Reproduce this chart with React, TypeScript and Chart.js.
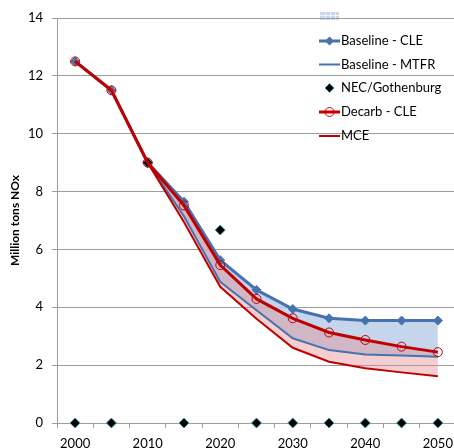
import React, { useEffect, useRef } from 'react';
import { Chart, registerables } from 'chart.js';

Chart.register(...registerables);

// ---- data ----
const years = ['2000', '2005', '2010', '2015', '2020', '2025', '2030', '2035', '2040', '2045', '2050'];
const xTickLabels = ['2000', '', '2010', '', '2020', '', '2030', '', '2040', '', '2050'];
const yTickValues = [0, 2, 4, 6, 8, 10, 12, 14];

const baselineCLE = [12.5, 11.5, 9.0, 7.65, 5.63, 4.6, 3.94, 3.62, 3.54, 3.54, 3.54];
const baselineMTFR = [12.5, 11.5, 9.0, 7.15, 4.88, 3.9, 2.93, 2.52, 2.37, 2.33, 2.29];
const necGothenburg = [0, 0, 9.0, 0, 6.67, 0, 0, 0, 0, 0, 0];
const decarbCLE = [12.5, 11.5, 9.0, 7.52, 5.46, 4.29, 3.62, 3.13, 2.87, 2.64, 2.45];
const mce = [12.5, 11.5, 9.0, 6.95, 4.71, 3.6, 2.6, 2.12, 1.89, 1.75, 1.62];

const legendLabels = ['Baseline - CLE', 'Baseline - MTFR', 'NEC/Gothenburg', 'Decarb - CLE', 'MCE'];
const yTitle = 'Million tons NOx';

// ---- styles ----
const FONT = 'Lato, "Liberation Sans", Arial, sans-serif';
const BLUE = '#4673AD';
const RED = '#C00000';
const GRID = '#9d9d9d';
const W = 462;
const H = 448;

function diamond(ctx: CanvasRenderingContext2D, x: number, y: number, r: number) {
  ctx.beginPath();
  ctx.moveTo(x - r, y);
  ctx.lineTo(x, y - r);
  ctx.lineTo(x + r, y);
  ctx.lineTo(x, y + r);
  ctx.closePath();
}

const legendPlugin = {
  id: 'excelLegend',
  beforeDraw(chart: any) {
    const ctx: CanvasRenderingContext2D = chart.ctx;
    ctx.save();
    // partially visible swatch of the area series
    ctx.fillStyle = 'rgb(198,215,238)';
    ctx.fillRect(320, 12, 19, 8);
    ctx.strokeStyle = 'rgba(255,255,255,0.7)';
    ctx.lineWidth = 1;
    ctx.beginPath();
    for (const gx of [325.5, 330.5, 335.5]) {
      ctx.moveTo(gx, 12);
      ctx.lineTo(gx, 20);
    }
    ctx.moveTo(320, 15.5);
    ctx.lineTo(339, 15.5);
    ctx.stroke();
    ctx.restore();
  },
  afterDraw(chart: any) {
    const ctx: CanvasRenderingContext2D = chart.ctx;
    ctx.save();
    const x0 = 319;
    const x1 = 340;
    const xm = (x0 + x1) / 2;
    const tx = 341;
    const ys = [41, 64.5, 88, 112, 136];
    ys.forEach((y, i) => {
      if (i === 0 || i === 1 || i === 3 || i === 4) {
        ctx.strokeStyle = i < 2 ? BLUE : RED;
        ctx.lineWidth = i === 0 || i === 3 ? 3 : 2;
        ctx.beginPath();
        ctx.moveTo(x0, y);
        ctx.lineTo(x1, y);
        ctx.stroke();
      }
      if (i === 0) {
        ctx.fillStyle = BLUE;
        diamond(ctx, xm, y, 4.5);
        ctx.fill();
      } else if (i === 2) {
        ctx.fillStyle = '#000';
        ctx.strokeStyle = '#3a9ca8';
        ctx.lineWidth = 1;
        diamond(ctx, xm, y, 4.5);
        ctx.fill();
        ctx.stroke();
      } else if (i === 3) {
        ctx.strokeStyle = RED;
        ctx.lineWidth = 1;
        ctx.beginPath();
        ctx.arc(xm, y, 4.5, 0, Math.PI * 2);
        ctx.stroke();
      }
      ctx.fillStyle = '#000';
      ctx.font = `13px ${FONT}`;
      ctx.textBaseline = 'middle';
      ctx.textAlign = 'left';
      ctx.fillText(legendLabels[i], tx, y);
    });
    ctx.restore();
  },
};

export default function App() {
  const ref = useRef<HTMLCanvasElement>(null);

  useEffect(() => {
    const canvas = ref.current;
    if (!canvas) return;
    const chart = new Chart(canvas, {
      type: 'line',
      data: {
        labels: years,
        datasets: [
          {
            label: legendLabels[0],
            data: baselineCLE,
            borderColor: BLUE,
            borderWidth: 3,
            backgroundColor: 'rgba(186,206,233,0.85)',
            fill: 1,
            pointStyle: 'rectRot',
            pointRadius: 4.5,
            pointBackgroundColor: BLUE,
            pointBorderColor: BLUE,
            pointBorderWidth: 1,
            tension: 0,
            order: 5,
            clip: false,
          } as any,
          {
            label: legendLabels[1],
            data: baselineMTFR,
            borderColor: BLUE,
            borderWidth: 2,
            pointRadius: 0,
            fill: false,
            order: 4,
          },
          {
            label: legendLabels[2],
            data: necGothenburg,
            showLine: false,
            pointStyle: 'rectRot',
            pointRadius: 5,
            pointBackgroundColor: '#000',
            pointBorderColor: '#3a9ca8',
            pointBorderWidth: 1,
            borderColor: '#000',
            fill: false,
            order: 3,
            clip: false,
          } as any,
          {
            label: legendLabels[3],
            data: decarbCLE,
            borderColor: RED,
            borderWidth: 3,
            backgroundColor: 'rgba(228,135,140,0.4)',
            fill: 4,
            pointStyle: 'circle',
            pointRadius: 4.5,
            pointBackgroundColor: 'rgba(0,0,0,0)',
            pointBorderColor: RED,
            pointBorderWidth: 1,
            order: 1,
            clip: false,
          } as any,
          {
            label: legendLabels[4],
            data: mce,
            borderColor: RED,
            borderWidth: 2,
            pointRadius: 0,
            fill: false,
            order: 2,
          },
        ],
      },
      options: {
        responsive: false,
        animation: false,
        devicePixelRatio: 1,
        layout: { padding: { left: 0, top: 18, right: 6, bottom: 0 } },
        plugins: {
          legend: { display: false },
          tooltip: { enabled: false },
          filler: { drawTime: 'beforeDatasetsDraw' },
        } as any,
        scales: {
          x: {
            type: 'category',
            offset: true,
            grid: {
              display: true,
              drawOnChartArea: false,
              drawTicks: true,
              tickLength: 5,
              offset: true,
              color: GRID,
            },
            border: { display: true, color: GRID, width: 1 },
            ticks: {
              autoSkip: false,
              maxRotation: 0,
              minRotation: 0,
              color: '#000',
              font: { family: FONT, size: 13 },
              padding: 8,
              callback: (_v: any, i: number) => xTickLabels[i],
            },
            afterFit: (s: any) => {
              s.height = 25;
            },
          } as any,
          y: {
            min: 0,
            max: 14,
            afterBuildTicks: (s: any) => {
              s.ticks = yTickValues.map((v) => ({ value: v }));
            },
            ticks: {
              color: '#000',
              font: { family: FONT, size: 13 },
              padding: 9,
            },
            grid: { color: GRID, tickLength: 5, drawTicks: true },
            border: { display: true, color: GRID, width: 1 },
            title: {
              display: true,
              text: yTitle,
              color: '#000',
              font: { family: FONT, size: 12, weight: 'bold' },
              padding: { top: 8, bottom: 0 },
            },
            afterFit: (s: any) => {
              s.width = 57;
            },
          } as any,
        },
      },
      plugins: [legendPlugin],
    });
    return () => chart.destroy();
  }, []);

  return (
    <div
      style={{
        position: 'fixed',
        left: 0,
        top: 0,
        width: 454,
        height: 448,
        overflow: 'hidden',
        background: '#fff',
      }}
    >
      <canvas ref={ref} width={W} height={H} style={{ width: W, height: H, display: 'block' }} />
    </div>
  );
}
